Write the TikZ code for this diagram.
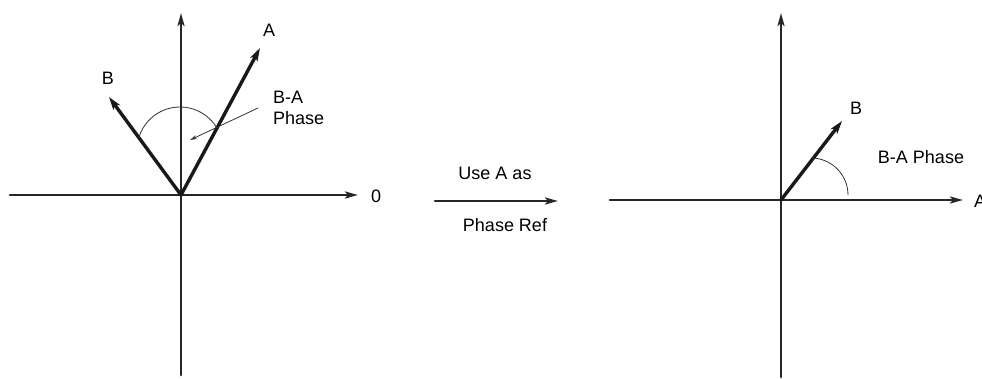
\documentclass[tikz,border=0pt]{standalone}
\usepackage{fontspec}
\setmainfont{Liberation Sans}
\usetikzlibrary{arrows.meta}
\begin{document}
\begin{tikzpicture}[x=1pt, y=1pt, line join=round, line cap=round,
		axis/.style={line width=2.8pt, draw=black!85, -{Stealth[length=13pt,width=7pt,inset=3pt]}},
		vec/.style={line width=3.4pt, draw=black!90, -{Stealth[length=13pt,width=8pt,inset=3pt]}},
		thin/.style={line width=0.8pt, draw=black!80},
		lbl/.style={font=\fontsize{18}{21}\selectfont, inner sep=1pt}]
	% Page frame
	\useasboundingbox (0,0) rectangle (982,378);
	
	% Left diagram: key coordinates
	\coordinate (O1) at (181,183);   % Origin
	\coordinate (Y1b) at (181,3);    % Bottom of vertical axis
	\coordinate (Y1t) at (181,365);  % Top of vertical axis
	\coordinate (X1l) at (10,183);   % Left end of horizontal axis
	\coordinate (X1r) at (358,183);  % Right end of horizontal axis
	\coordinate (A1) at (260,330);   % Tip of A
	\coordinate (B1) at (109,281);   % Tip of B
	
	% Axes
	\draw[axis] (Y1b) -- (Y1t);
	\draw[axis] (X1l) -- (X1r);
	\node[lbl, anchor=west] (zero) at (370,182) {0};
	
	% Vectors A and B
	\draw[vec] (O1) -- (A1);
	\draw[vec] (O1) -- (B1);
	\node[lbl] (labA1) at (269,348) {A};
	\node[lbl] (labB1) at (108,300) {B};
	
	% Phase arc between B and A
	\draw[thin] (180,228) ++(162:43) arc (162:32:43);
	
	% Phase label with pointer
	\node[lbl, anchor=west, align=left] (ph1) at (272,270) {B-A\\Phase};
	\coordinate (P1) at (190,238);
	\draw[thin, -{Stealth[length=7pt,width=4pt]}] (ph1.west) ++(-14,0) -- (P1);
	
	% Middle arrow
	\coordinate (M1) at (435,177);
	\coordinate (M2) at (558,177);
	\draw[axis] (M1) -- (M2);
	\node[lbl] (use) at (495,205) {Use A as};
	\node[lbl] (ref) at (505,153) {Phase Ref};
	
	% Right diagram: key coordinates
	\coordinate (O2) at (781,178);   % Origin
	\coordinate (Y2b) at (781,1);    % Bottom of vertical axis
	\coordinate (Y2t) at (781,365);  % Top of vertical axis
	\coordinate (X2l) at (610,178);  % Left end of horizontal axis
	\coordinate (X2r) at (963,178);  % Right end of horizontal axis
	\coordinate (B2) at (842,257);   % Tip of B
	
	% Axes
	\draw[axis] (Y2b) -- (Y2t);
	\draw[axis] (X2l) -- (X2r);
	\node[lbl, anchor=west] (labA2) at (973,177) {A};
	
	% Vector B
	\draw[vec] (O2) -- (B2);
	\node[lbl] (labB2) at (856,270) {B};
	
	% Phase arc
	\draw[thin] (811,183) ++(90:37) arc (90:0:37);
	\node[lbl] (ph2) at (921,221) {B-A Phase};
	
\end{tikzpicture}
\end{document}
